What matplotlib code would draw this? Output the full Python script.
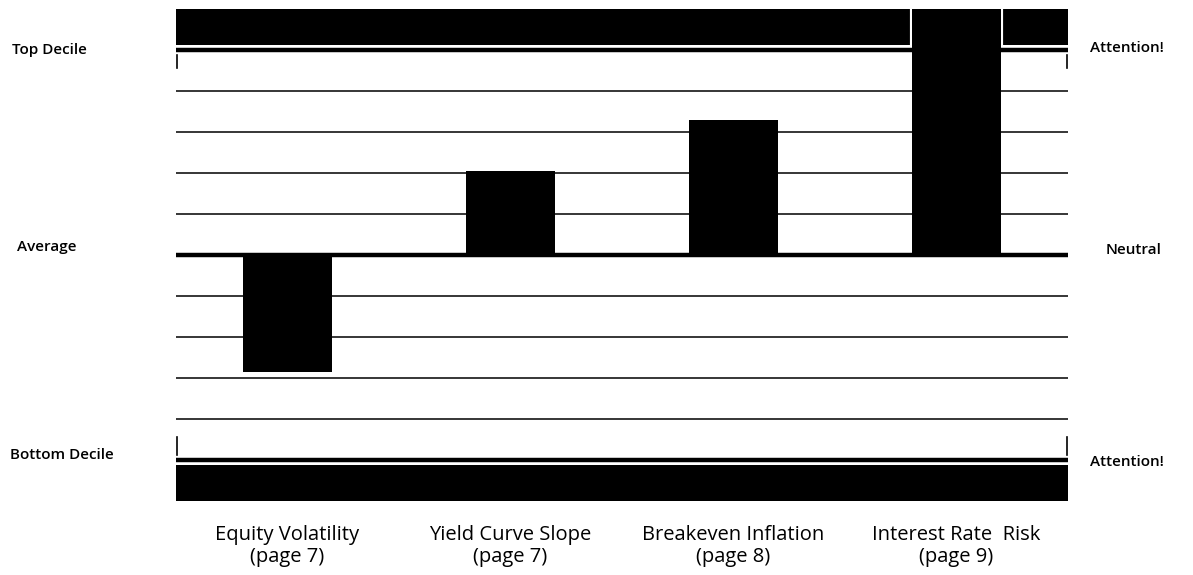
import numpy as np
import matplotlib
matplotlib.use("Agg")
import matplotlib.pyplot as plt
import matplotlib.transforms as mtransforms

plt.rcParams['font.family'] = ['Open Sans', 'DejaVu Sans']

# ---------------- data ----------------
categories = ["Equity Volatility\n(page 7)", "Yield Curve Slope\n(page 7)",
              "Breakeven Inflation\n(page 8)", "Interest Rate  Risk\n(page 9)"]
scores = [-2.85, 2.05, 3.3, 6.5]
grid_levels = [-4, -3, -2, -1, 1, 2, 3, 4]
left_labels = ["Top Decile", "Average", "Bottom Decile"]
right_labels = ["Attention!", "Neutral", "Attention!"]
label_levels = [5, 0, -5]
band_start = 5.13

# ---------------- plot ----------------
fig = plt.figure(figsize=(11.93, 5.75), dpi=100)
ax = fig.add_axes([0.1475, 0.1287, 0.7477, 0.8556])
ax.set_xlim(-0.5, 3.5)
ax.set_ylim(-6, 6)

# decile bands
ax.axhspan(band_start, 6, color="black", lw=0, zorder=1)
ax.axhspan(-6, -band_start, color="black", lw=0, zorder=1)

# grid
for g in grid_levels:
    ax.axhline(g, color="black", lw=1.1, zorder=0)
for g in [5, 0, -5]:
    ax.axhline(g, color="black", lw=3.2, zorder=5)

# small edge marks inside the decile lines
for xe in [-0.497, 3.497]:
    ax.plot([xe, xe], [4.55, 4.88], color="black", lw=1.2, zorder=2)
    ax.plot([xe, xe], [-4.45, -4.88], color="black", lw=1.2, zorder=2)

x = np.arange(len(categories))
# white outline where a bar runs into the top band
over = [i for i, v in enumerate(scores) if v > band_start]
ax.bar([x[i] for i in over], [scores[i] - band_start for i in over],
       bottom=band_start, width=0.4, color="black", edgecolor="white",
       lw=3.0, zorder=3)
ax.bar(x, scores, width=0.4, color="black", lw=0, zorder=4)

ax.set_xticks(x)
ax.set_xticklabels(categories, fontsize=14.5, linespacing=1.15)
ax.tick_params(axis="x", length=0, pad=17)
ax.set_yticks([])
for s in ax.spines.values():
    s.set_visible(False)

# side labels
trans = mtransforms.blended_transform_factory(fig.transFigure, ax.transData)
left_off = [0.0, 0.2, 0.12]
right_off = [0.05, 0.12, -0.05]
left_x = [0.010, 0.014, 0.008]
right_x = [0.914, 0.927, 0.914]
for lab, lev, dy, xl in zip(left_labels, label_levels, left_off, left_x):
    ax.text(xl, lev + dy, lab, transform=trans, fontsize=11,
            va="center", ha="left", fontweight="semibold")
for lab, lev, dy, xr in zip(right_labels, label_levels, right_off, right_x):
    ax.text(xr, lev + dy, lab, transform=trans, fontsize=11,
            va="center", ha="left", fontweight="semibold")

plt.savefig("out.png", dpi=100)
